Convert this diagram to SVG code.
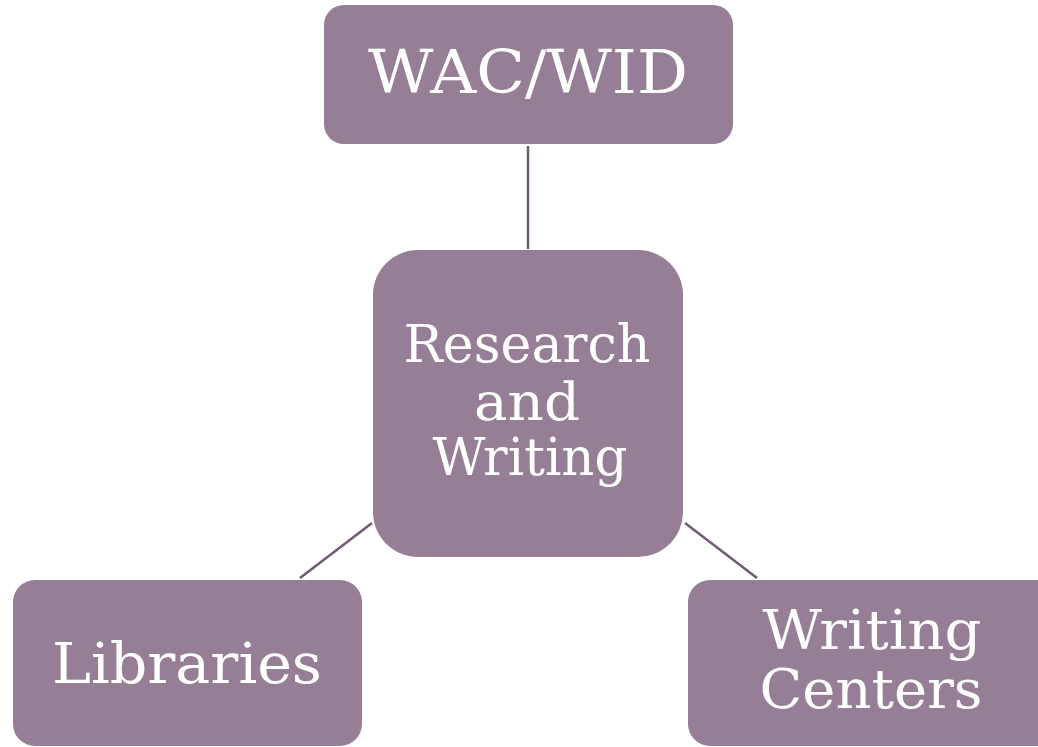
<svg xmlns="http://www.w3.org/2000/svg" width="1038" height="747" viewBox="0 0 1038 747">
<style>
.box{fill:#967e96;}
.lbl{fill:#ffffff;font-family:"DejaVu Serif","Liberation Serif",serif;text-anchor:middle;}
.conn{stroke:#6e5a72;stroke-width:2.5;fill:none;}
</style>
<rect width="1038" height="747" fill="#ffffff"/>
<g id="connectors">
<line class="conn" x1="528" y1="146" x2="528" y2="249"/>
<line class="conn" x1="372" y1="523" x2="300" y2="578"/>
<line class="conn" x1="685" y1="523" x2="757" y2="578"/>
</g>
<g id="node-wac">
<rect class="box" x="324" y="5" width="409" height="139" rx="20"/>
<text class="lbl" x="528" y="93" font-size="59" textLength="320" lengthAdjust="spacingAndGlyphs">WAC/WID</text>
</g>
<g id="node-center">
<rect class="box" x="373" y="250" width="310" height="307" rx="45"/>
<text class="lbl" x="527" y="362" font-size="53" textLength="247" lengthAdjust="spacingAndGlyphs">Research</text>
<text class="lbl" x="527" y="420" font-size="53" textLength="106" lengthAdjust="spacingAndGlyphs">and</text>
<text class="lbl" x="530" y="475" font-size="53" textLength="195" lengthAdjust="spacingAndGlyphs">Writing</text>
</g>
<g id="node-libraries">
<rect class="box" x="13" y="580" width="349" height="166" rx="22"/>
<text class="lbl" x="187" y="683" font-size="56" textLength="270" lengthAdjust="spacingAndGlyphs">Libraries</text>
</g>
<g id="node-centers">
<rect class="box" x="688" y="580" width="370" height="166" rx="22"/>
<text class="lbl" x="872" y="649" font-size="55" textLength="219" lengthAdjust="spacingAndGlyphs">Writing</text>
<text class="lbl" x="871" y="708" font-size="55" textLength="223" lengthAdjust="spacingAndGlyphs">Centers</text>
</g>
</svg>
